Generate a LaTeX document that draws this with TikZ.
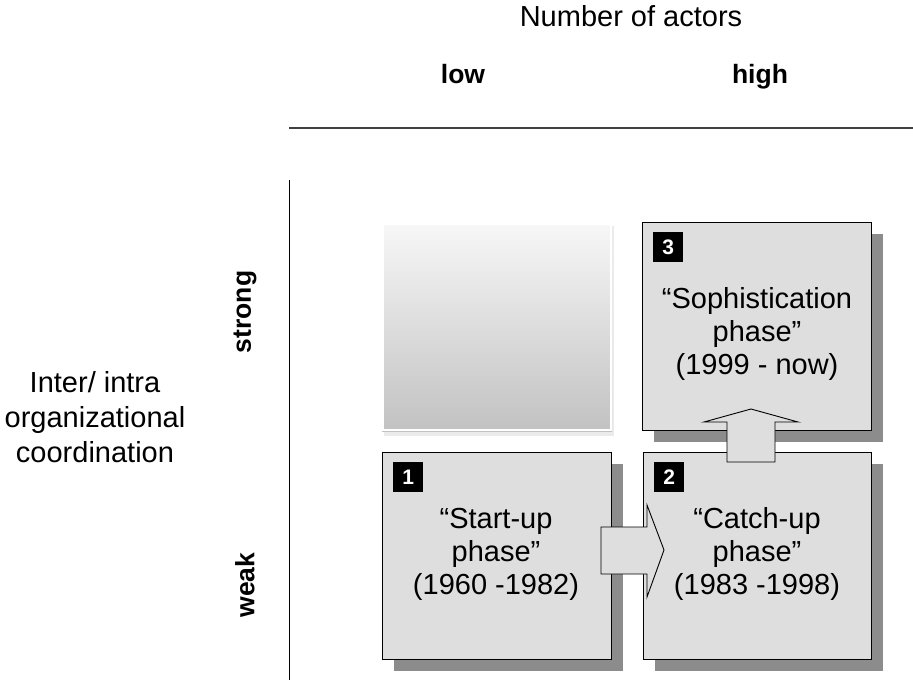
\documentclass[tikz,border=0pt]{standalone}
\usepackage{fontspec}
\setmainfont{Liberation Sans}
\begin{document}
\begin{tikzpicture}[x=1pt,y=-1pt,
  phasebox/.style={draw=black,line width=0.9pt,fill=boxgray},
  shadowbox/.style={fill=shadowgray,draw=none},
  numbox/.style={fill=black,text=white,font=\fontsize{21}{21}\selectfont\bfseries,
    minimum width=30pt,minimum height=30pt,inner sep=0pt,anchor=north west},
  phasetext/.style={align=center,font=\fontsize{29}{33}\selectfont,inner sep=0pt},
  axislabel/.style={font=\fontsize{26.5}{26.5}\selectfont\bfseries,inner sep=0pt},
  bigarrow/.style={draw=black,line width=0.9pt,fill=boxgray,line join=miter}]
\definecolor{boxgray}{HTML}{DEDEDE}
\definecolor{shadowgray}{HTML}{8C8C8C}
\useasboundingbox (0,0) rectangle (913,680);

% axes
\coordinate (hl) at (289,128);
\coordinate (hr) at (913,128);
\coordinate (vt) at (289,180);
\coordinate (vb) at (289,680);
\draw[line width=1.4pt,color=black!75] (hl) -- (hr);
\draw[line width=1pt] (vt) -- (vb);

% headings
\node[anchor=base,inner sep=0pt,font=\fontsize{29}{29}\selectfont] (title) at (631,26) {Number of actors};
\node[axislabel,anchor=base] (low) at (463,83) {low};
\node[axislabel,anchor=base] (high) at (760,83) {high};
\node[axislabel,rotate=90] (strong) at (245,312) {strong};
\node[axislabel,rotate=90] (weak) at (245,585) {weak};
\node[align=center,inner sep=0pt,font=\fontsize{29}{35}\selectfont] (yaxis) at (95,417)
  {Inter/ intra\\organizational\\coordination};

% faded empty box
\fill[black!8] (384,226) rectangle (614,436);
\shade[top color=black!3,bottom color=black!24] (382,223) rectangle (612,431);
\draw[white,line width=1.2pt] (383,224) rectangle (611,430);

% shadows
\fill[shadowgray] (394,464) rectangle (623,671);
\fill[shadowgray] (655,464) rectangle (883,671);
\fill[shadowgray] (654,234) rectangle (883,442);

% boxes
\draw[phasebox] (382,452) rectangle (611,659);
\draw[phasebox] (643,452) rectangle (871,659);
\draw[phasebox] (642,222) rectangle (871,430);

% number tags
\node[numbox] (n1) at (393,462) {1};
\node[numbox] (n2) at (654,462) {2};
\node[numbox] (n3) at (653,232) {3};

% texts
\node[phasetext] (t1) at (496,554) {``Start-up\\phase''\\(1960 -1982)};
\node[phasetext] (t2) at (757,554) {``Catch-up\\phase''\\(1983 -1998)};
\node[phasetext] (t3) at (757,334) {``Sophistication\\phase''\\(1999 - now)};

% arrows
\draw[bigarrow] (601,527) -- (647,527) -- (647,505) -- (664,550) -- (647,597) -- (647,574) -- (601,574) -- cycle;
\draw[bigarrow] (727,462) -- (727,422) -- (704,422) -- (751,409) -- (798,422) -- (775,422) -- (775,462) -- cycle;
\end{tikzpicture}
\end{document}
